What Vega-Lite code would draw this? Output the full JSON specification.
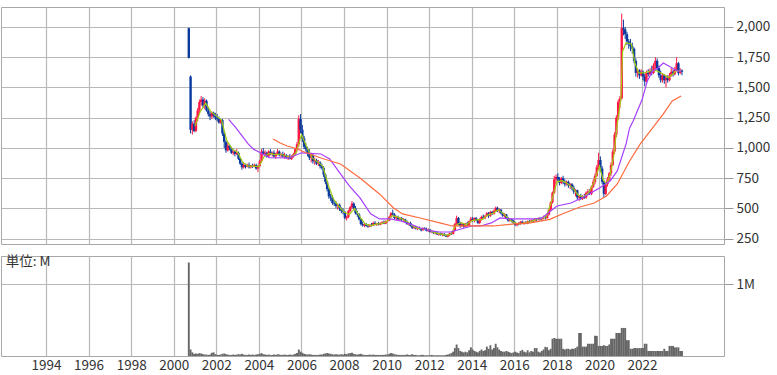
{
"$schema": "https://vega.github.io/schema/vega-lite/v6.json",
"background": "white",
"padding": {"left": 0, "top": 6, "right": 0, "bottom": 0},
"spacing": 8,
"config": {
  "font": "Noto Sans CJK JP",
  "view": {"stroke": "#a8a8a8", "strokeWidth": 1},
  "axis": {"gridColor": "#b8b8b8", "gridWidth": 1.2, "labelFontSize": 13.5, "labelColor": "#333333", "domain": false, "tickColor": "#9a9a9a", "labelOverlap": false}
},
"datasets": {
"p": [
{"d":"2000-09","o":1990,"h":1995,"l":1740,"c":1745,"v":1300000},
{"d":"2000-10","o":1590,"h":1600,"l":1120,"c":1150,"v":90000},
{"d":"2000-11","o":1150,"h":1220,"l":1110,"c":1200,"v":50000},
{"d":"2000-12","o":1200,"h":1230,"l":1130,"c":1140,"v":30000},
{"d":"2001-01","o":1140,"h":1260,"l":1130,"c":1250,"v":35000},
{"d":"2001-02","o":1250,"h":1330,"l":1220,"c":1310,"v":30000},
{"d":"2001-03","o":1310,"h":1400,"l":1290,"c":1380,"v":40000},
{"d":"2001-04","o":1380,"h":1430,"l":1350,"c":1400,"v":35000},
{"d":"2001-05","o":1400,"h":1420,"l":1330,"c":1350,"v":25000},
{"d":"2001-06","o":1350,"h":1410,"l":1320,"c":1390,"v":20000},
{"d":"2001-07","o":1390,"h":1400,"l":1300,"c":1310,"v":20000},
{"d":"2001-08","o":1310,"h":1340,"l":1260,"c":1280,"v":15000},
{"d":"2001-09","o":1280,"h":1300,"l":1230,"c":1260,"v":20000},
{"d":"2001-10","o":1260,"h":1300,"l":1240,"c":1290,"v":45000},
{"d":"2001-11","o":1290,"h":1300,"l":1250,"c":1270,"v":50000},
{"d":"2001-12","o":1270,"h":1290,"l":1230,"c":1250,"v":25000},
{"d":"2002-01","o":1250,"h":1280,"l":1220,"c":1240,"v":15000},
{"d":"2002-02","o":1240,"h":1260,"l":1200,"c":1210,"v":15000},
{"d":"2002-03","o":1210,"h":1240,"l":1200,"c":1230,"v":20000},
{"d":"2002-04","o":1230,"h":1240,"l":1100,"c":1120,"v":30000},
{"d":"2002-05","o":1120,"h":1130,"l":1000,"c":1050,"v":35000},
{"d":"2002-06","o":1050,"h":1060,"l":960,"c":980,"v":25000},
{"d":"2002-07","o":980,"h":1040,"l":970,"c":1020,"v":20000},
{"d":"2002-08","o":1020,"h":1030,"l":980,"c":1000,"v":15000},
{"d":"2002-09","o":1000,"h":1010,"l":950,"c":960,"v":15000},
{"d":"2002-10","o":960,"h":990,"l":940,"c":970,"v":20000},
{"d":"2002-11","o":970,"h":980,"l":930,"c":950,"v":15000},
{"d":"2002-12","o":950,"h":990,"l":940,"c":960,"v":20000},
{"d":"2003-01","o":960,"h":970,"l":900,"c":910,"v":25000},
{"d":"2003-02","o":910,"h":920,"l":860,"c":870,"v":20000},
{"d":"2003-03","o":870,"h":880,"l":820,"c":840,"v":30000},
{"d":"2003-04","o":840,"h":880,"l":830,"c":860,"v":20000},
{"d":"2003-05","o":860,"h":870,"l":830,"c":845,"v":15000},
{"d":"2003-06","o":845,"h":870,"l":840,"c":860,"v":15000},
{"d":"2003-07","o":860,"h":880,"l":830,"c":840,"v":20000},
{"d":"2003-08","o":840,"h":860,"l":830,"c":855,"v":15000},
{"d":"2003-09","o":855,"h":870,"l":835,"c":850,"v":20000},
{"d":"2003-10","o":850,"h":870,"l":840,"c":860,"v":15000},
{"d":"2003-11","o":860,"h":870,"l":820,"c":830,"v":20000},
{"d":"2003-12","o":830,"h":860,"l":800,"c":850,"v":25000},
{"d":"2004-01","o":850,"h":900,"l":840,"c":890,"v":30000},
{"d":"2004-02","o":890,"h":990,"l":880,"c":970,"v":40000},
{"d":"2004-03","o":970,"h":1000,"l":940,"c":950,"v":25000},
{"d":"2004-04","o":950,"h":980,"l":930,"c":960,"v":20000},
{"d":"2004-05","o":960,"h":970,"l":920,"c":930,"v":15000},
{"d":"2004-06","o":930,"h":980,"l":920,"c":970,"v":20000},
{"d":"2004-07","o":970,"h":990,"l":940,"c":950,"v":15000},
{"d":"2004-08","o":950,"h":970,"l":930,"c":960,"v":15000},
{"d":"2004-09","o":960,"h":980,"l":920,"c":930,"v":20000},
{"d":"2004-10","o":930,"h":960,"l":910,"c":950,"v":15000},
{"d":"2004-11","o":950,"h":990,"l":940,"c":970,"v":25000},
{"d":"2004-12","o":970,"h":980,"l":930,"c":940,"v":20000},
{"d":"2005-01","o":940,"h":960,"l":920,"c":950,"v":15000},
{"d":"2005-02","o":950,"h":970,"l":920,"c":930,"v":15000},
{"d":"2005-03","o":930,"h":960,"l":910,"c":940,"v":20000},
{"d":"2005-04","o":940,"h":950,"l":910,"c":920,"v":15000},
{"d":"2005-05","o":920,"h":940,"l":900,"c":930,"v":15000},
{"d":"2005-06","o":930,"h":950,"l":905,"c":910,"v":20000},
{"d":"2005-07","o":910,"h":940,"l":900,"c":930,"v":15000},
{"d":"2005-08","o":930,"h":960,"l":920,"c":950,"v":20000},
{"d":"2005-09","o":950,"h":1000,"l":940,"c":990,"v":30000},
{"d":"2005-10","o":990,"h":1050,"l":970,"c":1030,"v":40000},
{"d":"2005-11","o":1030,"h":1270,"l":1010,"c":1240,"v":90000},
{"d":"2005-12","o":1240,"h":1280,"l":1120,"c":1150,"v":60000},
{"d":"2006-01","o":1150,"h":1190,"l":1050,"c":1080,"v":45000},
{"d":"2006-02","o":1080,"h":1100,"l":990,"c":1010,"v":30000},
{"d":"2006-03","o":1010,"h":1040,"l":970,"c":990,"v":25000},
{"d":"2006-04","o":990,"h":1010,"l":930,"c":950,"v":20000},
{"d":"2006-05","o":950,"h":990,"l":900,"c":920,"v":25000},
{"d":"2006-06","o":920,"h":960,"l":880,"c":940,"v":20000},
{"d":"2006-07","o":940,"h":950,"l":870,"c":890,"v":15000},
{"d":"2006-08","o":890,"h":920,"l":860,"c":900,"v":15000},
{"d":"2006-09","o":900,"h":910,"l":860,"c":870,"v":15000},
{"d":"2006-10","o":870,"h":900,"l":850,"c":880,"v":15000},
{"d":"2006-11","o":880,"h":890,"l":830,"c":850,"v":20000},
{"d":"2006-12","o":850,"h":870,"l":820,"c":835,"v":20000},
{"d":"2007-01","o":835,"h":850,"l":760,"c":780,"v":30000},
{"d":"2007-02","o":780,"h":790,"l":700,"c":720,"v":35000},
{"d":"2007-03","o":720,"h":730,"l":640,"c":660,"v":40000},
{"d":"2007-04","o":660,"h":670,"l":580,"c":600,"v":35000},
{"d":"2007-05","o":600,"h":620,"l":560,"c":590,"v":30000},
{"d":"2007-06","o":590,"h":610,"l":530,"c":545,"v":25000},
{"d":"2007-07","o":545,"h":570,"l":520,"c":540,"v":20000},
{"d":"2007-08","o":540,"h":560,"l":500,"c":520,"v":25000},
{"d":"2007-09","o":520,"h":540,"l":490,"c":530,"v":20000},
{"d":"2007-10","o":530,"h":540,"l":480,"c":500,"v":20000},
{"d":"2007-11","o":500,"h":510,"l":460,"c":480,"v":25000},
{"d":"2007-12","o":480,"h":500,"l":450,"c":470,"v":20000},
{"d":"2008-01","o":470,"h":480,"l":410,"c":420,"v":30000},
{"d":"2008-02","o":420,"h":440,"l":400,"c":430,"v":25000},
{"d":"2008-03","o":430,"h":490,"l":420,"c":480,"v":35000},
{"d":"2008-04","o":480,"h":520,"l":470,"c":510,"v":40000},
{"d":"2008-05","o":510,"h":560,"l":500,"c":540,"v":45000},
{"d":"2008-06","o":540,"h":550,"l":490,"c":500,"v":30000},
{"d":"2008-07","o":500,"h":520,"l":450,"c":460,"v":25000},
{"d":"2008-08","o":460,"h":480,"l":430,"c":450,"v":20000},
{"d":"2008-09","o":450,"h":460,"l":400,"c":410,"v":25000},
{"d":"2008-10","o":410,"h":420,"l":360,"c":370,"v":30000},
{"d":"2008-11","o":370,"h":390,"l":350,"c":360,"v":20000},
{"d":"2008-12","o":360,"h":380,"l":345,"c":370,"v":15000},
{"d":"2009-01","o":370,"h":380,"l":350,"c":355,"v":15000},
{"d":"2009-02","o":355,"h":370,"l":340,"c":350,"v":15000},
{"d":"2009-03","o":350,"h":370,"l":345,"c":365,"v":20000},
{"d":"2009-04","o":365,"h":380,"l":350,"c":360,"v":15000},
{"d":"2009-05","o":360,"h":390,"l":355,"c":380,"v":20000},
{"d":"2009-06","o":380,"h":395,"l":360,"c":370,"v":15000},
{"d":"2009-07","o":370,"h":380,"l":355,"c":375,"v":15000},
{"d":"2009-08","o":375,"h":390,"l":360,"c":365,"v":15000},
{"d":"2009-09","o":365,"h":385,"l":360,"c":380,"v":15000},
{"d":"2009-10","o":380,"h":395,"l":370,"c":385,"v":15000},
{"d":"2009-11","o":385,"h":400,"l":370,"c":375,"v":15000},
{"d":"2009-12","o":375,"h":400,"l":370,"c":395,"v":20000},
{"d":"2010-01","o":395,"h":410,"l":385,"c":400,"v":20000},
{"d":"2010-02","o":400,"h":440,"l":395,"c":430,"v":30000},
{"d":"2010-03","o":430,"h":470,"l":420,"c":460,"v":40000},
{"d":"2010-04","o":460,"h":490,"l":440,"c":450,"v":35000},
{"d":"2010-05","o":450,"h":460,"l":410,"c":420,"v":25000},
{"d":"2010-06","o":420,"h":440,"l":400,"c":430,"v":20000},
{"d":"2010-07","o":430,"h":440,"l":400,"c":410,"v":15000},
{"d":"2010-08","o":410,"h":430,"l":395,"c":420,"v":15000},
{"d":"2010-09","o":420,"h":430,"l":395,"c":405,"v":15000},
{"d":"2010-10","o":405,"h":420,"l":390,"c":410,"v":15000},
{"d":"2010-11","o":410,"h":415,"l":380,"c":390,"v":15000},
{"d":"2010-12","o":390,"h":400,"l":365,"c":370,"v":20000},
{"d":"2011-01","o":370,"h":385,"l":360,"c":380,"v":15000},
{"d":"2011-02","o":380,"h":390,"l":350,"c":355,"v":15000},
{"d":"2011-03","o":355,"h":365,"l":330,"c":340,"v":25000},
{"d":"2011-04","o":340,"h":355,"l":330,"c":350,"v":15000},
{"d":"2011-05","o":350,"h":355,"l":325,"c":335,"v":15000},
{"d":"2011-06","o":335,"h":345,"l":320,"c":340,"v":10000},
{"d":"2011-07","o":340,"h":350,"l":325,"c":330,"v":10000},
{"d":"2011-08","o":330,"h":340,"l":310,"c":320,"v":15000},
{"d":"2011-09","o":320,"h":345,"l":315,"c":335,"v":15000},
{"d":"2011-10","o":335,"h":345,"l":320,"c":330,"v":10000},
{"d":"2011-11","o":330,"h":340,"l":310,"c":315,"v":10000},
{"d":"2011-12","o":315,"h":335,"l":305,"c":325,"v":10000},
{"d":"2012-01","o":325,"h":330,"l":300,"c":305,"v":10000},
{"d":"2012-02","o":305,"h":320,"l":295,"c":310,"v":15000},
{"d":"2012-03","o":310,"h":315,"l":290,"c":295,"v":10000},
{"d":"2012-04","o":295,"h":310,"l":285,"c":300,"v":10000},
{"d":"2012-05","o":300,"h":305,"l":280,"c":285,"v":10000},
{"d":"2012-06","o":285,"h":300,"l":275,"c":295,"v":10000},
{"d":"2012-07","o":295,"h":300,"l":275,"c":280,"v":10000},
{"d":"2012-08","o":280,"h":295,"l":270,"c":290,"v":10000},
{"d":"2012-09","o":290,"h":295,"l":270,"c":275,"v":10000},
{"d":"2012-10","o":275,"h":285,"l":262,"c":268,"v":15000},
{"d":"2012-11","o":268,"h":285,"l":260,"c":280,"v":20000},
{"d":"2012-12","o":280,"h":300,"l":270,"c":295,"v":30000},
{"d":"2013-01","o":295,"h":310,"l":280,"c":290,"v":40000},
{"d":"2013-02","o":290,"h":320,"l":285,"c":315,"v":60000},
{"d":"2013-03","o":315,"h":380,"l":310,"c":370,"v":110000},
{"d":"2013-04","o":370,"h":440,"l":360,"c":420,"v":160000},
{"d":"2013-05","o":420,"h":430,"l":360,"c":375,"v":110000},
{"d":"2013-06","o":375,"h":390,"l":340,"c":355,"v":70000},
{"d":"2013-07","o":355,"h":380,"l":345,"c":370,"v":60000},
{"d":"2013-08","o":370,"h":375,"l":340,"c":350,"v":50000},
{"d":"2013-09","o":350,"h":380,"l":345,"c":375,"v":60000},
{"d":"2013-10","o":375,"h":390,"l":350,"c":360,"v":50000},
{"d":"2013-11","o":360,"h":400,"l":355,"c":395,"v":80000},
{"d":"2013-12","o":395,"h":430,"l":385,"c":415,"v":120000},
{"d":"2014-01","o":415,"h":430,"l":390,"c":400,"v":90000},
{"d":"2014-02","o":400,"h":425,"l":385,"c":420,"v":70000},
{"d":"2014-03","o":420,"h":430,"l":395,"c":405,"v":60000},
{"d":"2014-04","o":405,"h":410,"l":370,"c":380,"v":50000},
{"d":"2014-05","o":380,"h":420,"l":370,"c":410,"v":70000},
{"d":"2014-06","o":410,"h":440,"l":400,"c":430,"v":90000},
{"d":"2014-07","o":430,"h":450,"l":410,"c":420,"v":70000},
{"d":"2014-08","o":420,"h":445,"l":410,"c":440,"v":80000},
{"d":"2014-09","o":440,"h":470,"l":430,"c":460,"v":130000},
{"d":"2014-10","o":460,"h":470,"l":420,"c":440,"v":100000},
{"d":"2014-11","o":440,"h":480,"l":430,"c":470,"v":150000},
{"d":"2014-12","o":470,"h":480,"l":445,"c":455,"v":90000},
{"d":"2015-01","o":455,"h":490,"l":450,"c":480,"v":110000},
{"d":"2015-02","o":480,"h":515,"l":470,"c":505,"v":170000},
{"d":"2015-03","o":505,"h":515,"l":470,"c":480,"v":120000},
{"d":"2015-04","o":480,"h":500,"l":460,"c":490,"v":90000},
{"d":"2015-05","o":490,"h":495,"l":450,"c":460,"v":70000},
{"d":"2015-06","o":460,"h":470,"l":430,"c":440,"v":60000},
{"d":"2015-07","o":440,"h":460,"l":425,"c":450,"v":60000},
{"d":"2015-08","o":450,"h":455,"l":410,"c":420,"v":70000},
{"d":"2015-09","o":420,"h":430,"l":390,"c":400,"v":60000},
{"d":"2015-10","o":400,"h":420,"l":390,"c":410,"v":50000},
{"d":"2015-11","o":410,"h":415,"l":385,"c":395,"v":40000},
{"d":"2015-12","o":395,"h":405,"l":370,"c":380,"v":50000},
{"d":"2016-01","o":380,"h":390,"l":355,"c":365,"v":60000},
{"d":"2016-02","o":365,"h":380,"l":350,"c":375,"v":50000},
{"d":"2016-03","o":375,"h":385,"l":360,"c":370,"v":40000},
{"d":"2016-04","o":370,"h":395,"l":365,"c":390,"v":70000},
{"d":"2016-05","o":390,"h":400,"l":370,"c":380,"v":85000},
{"d":"2016-06","o":380,"h":390,"l":365,"c":385,"v":60000},
{"d":"2016-07","o":385,"h":395,"l":370,"c":375,"v":50000},
{"d":"2016-08","o":375,"h":400,"l":370,"c":395,"v":80000},
{"d":"2016-09","o":395,"h":405,"l":380,"c":390,"v":50000},
{"d":"2016-10","o":390,"h":410,"l":385,"c":400,"v":70000},
{"d":"2016-11","o":400,"h":410,"l":385,"c":395,"v":60000},
{"d":"2016-12","o":395,"h":420,"l":390,"c":410,"v":110000},
{"d":"2017-01","o":410,"h":420,"l":395,"c":405,"v":110000},
{"d":"2017-02","o":405,"h":425,"l":400,"c":420,"v":60000},
{"d":"2017-03","o":420,"h":430,"l":400,"c":410,"v":50000},
{"d":"2017-04","o":410,"h":425,"l":400,"c":420,"v":70000},
{"d":"2017-05","o":420,"h":440,"l":410,"c":430,"v":90000},
{"d":"2017-06","o":430,"h":440,"l":410,"c":420,"v":127000},
{"d":"2017-07","o":420,"h":460,"l":415,"c":450,"v":120000},
{"d":"2017-08","o":450,"h":500,"l":440,"c":490,"v":80000},
{"d":"2017-09","o":490,"h":560,"l":480,"c":550,"v":100000},
{"d":"2017-10","o":550,"h":640,"l":540,"c":630,"v":240000},
{"d":"2017-11","o":630,"h":770,"l":620,"c":740,"v":250000},
{"d":"2017-12","o":740,"h":780,"l":700,"c":760,"v":240000},
{"d":"2018-01","o":760,"h":790,"l":720,"c":740,"v":240000},
{"d":"2018-02","o":740,"h":760,"l":690,"c":710,"v":240000},
{"d":"2018-03","o":710,"h":760,"l":700,"c":750,"v":240000},
{"d":"2018-04","o":750,"h":770,"l":700,"c":720,"v":100000},
{"d":"2018-05","o":720,"h":740,"l":680,"c":700,"v":90000},
{"d":"2018-06","o":700,"h":730,"l":690,"c":720,"v":100000},
{"d":"2018-07","o":720,"h":730,"l":670,"c":690,"v":100000},
{"d":"2018-08","o":690,"h":710,"l":660,"c":700,"v":90000},
{"d":"2018-09","o":700,"h":710,"l":650,"c":670,"v":100000},
{"d":"2018-10","o":670,"h":690,"l":620,"c":640,"v":100000},
{"d":"2018-11","o":640,"h":660,"l":600,"c":650,"v":110000},
{"d":"2018-12","o":650,"h":655,"l":570,"c":590,"v":130000},
{"d":"2019-01","o":590,"h":610,"l":560,"c":600,"v":320000},
{"d":"2019-02","o":600,"h":620,"l":570,"c":580,"v":320000},
{"d":"2019-03","o":580,"h":610,"l":570,"c":600,"v":130000},
{"d":"2019-04","o":600,"h":620,"l":580,"c":590,"v":130000},
{"d":"2019-05","o":590,"h":640,"l":580,"c":630,"v":130000},
{"d":"2019-06","o":630,"h":660,"l":610,"c":640,"v":170000},
{"d":"2019-07","o":640,"h":660,"l":610,"c":620,"v":170000},
{"d":"2019-08","o":620,"h":690,"l":610,"c":680,"v":170000},
{"d":"2019-09","o":680,"h":740,"l":670,"c":720,"v":170000},
{"d":"2019-10","o":720,"h":790,"l":700,"c":770,"v":280000},
{"d":"2019-11","o":770,"h":860,"l":760,"c":840,"v":280000},
{"d":"2019-12","o":840,"h":960,"l":820,"c":900,"v":140000},
{"d":"2020-01","o":900,"h":930,"l":800,"c":830,"v":140000},
{"d":"2020-02","o":830,"h":850,"l":700,"c":720,"v":140000},
{"d":"2020-03","o":720,"h":730,"l":590,"c":620,"v":150000},
{"d":"2020-04","o":620,"h":720,"l":610,"c":700,"v":140000},
{"d":"2020-05","o":700,"h":760,"l":680,"c":740,"v":140000},
{"d":"2020-06","o":740,"h":800,"l":720,"c":790,"v":160000},
{"d":"2020-07","o":790,"h":880,"l":770,"c":860,"v":240000},
{"d":"2020-08","o":860,"h":990,"l":850,"c":970,"v":240000},
{"d":"2020-09","o":970,"h":1130,"l":950,"c":1110,"v":240000},
{"d":"2020-10","o":1110,"h":1270,"l":1090,"c":1250,"v":320000},
{"d":"2020-11","o":1250,"h":1400,"l":1230,"c":1380,"v":320000},
{"d":"2020-12","o":1380,"h":1430,"l":1330,"c":1410,"v":320000},
{"d":"2021-01","o":1410,"h":2110,"l":1400,"c":1990,"v":390000},
{"d":"2021-02","o":1990,"h":2060,"l":1930,"c":1980,"v":390000},
{"d":"2021-03","o":1980,"h":2000,"l":1900,"c":1940,"v":390000},
{"d":"2021-04","o":1940,"h":1960,"l":1850,"c":1880,"v":220000},
{"d":"2021-05","o":1880,"h":1900,"l":1820,"c":1860,"v":220000},
{"d":"2021-06","o":1860,"h":1900,"l":1800,"c":1840,"v":100000},
{"d":"2021-07","o":1840,"h":1870,"l":1780,"c":1820,"v":100000},
{"d":"2021-08","o":1820,"h":1830,"l":1700,"c":1720,"v":110000},
{"d":"2021-09","o":1720,"h":1740,"l":1590,"c":1620,"v":110000},
{"d":"2021-10","o":1620,"h":1660,"l":1580,"c":1640,"v":110000},
{"d":"2021-11","o":1640,"h":1650,"l":1570,"c":1600,"v":110000},
{"d":"2021-12","o":1600,"h":1650,"l":1590,"c":1630,"v":110000},
{"d":"2022-01","o":1630,"h":1640,"l":1560,"c":1590,"v":110000},
{"d":"2022-02","o":1590,"h":1610,"l":1510,"c":1550,"v":170000},
{"d":"2022-03","o":1550,"h":1640,"l":1540,"c":1620,"v":170000},
{"d":"2022-04","o":1620,"h":1650,"l":1590,"c":1610,"v":70000},
{"d":"2022-05","o":1610,"h":1660,"l":1600,"c":1640,"v":70000},
{"d":"2022-06","o":1640,"h":1680,"l":1600,"c":1620,"v":70000},
{"d":"2022-07","o":1620,"h":1700,"l":1610,"c":1680,"v":70000},
{"d":"2022-08","o":1680,"h":1750,"l":1650,"c":1720,"v":70000},
{"d":"2022-09","o":1720,"h":1740,"l":1640,"c":1660,"v":70000},
{"d":"2022-10","o":1660,"h":1680,"l":1580,"c":1600,"v":70000},
{"d":"2022-11","o":1600,"h":1640,"l":1540,"c":1560,"v":70000},
{"d":"2022-12","o":1560,"h":1620,"l":1540,"c":1600,"v":70000},
{"d":"2023-01","o":1600,"h":1610,"l":1530,"c":1560,"v":100000},
{"d":"2023-02","o":1560,"h":1600,"l":1500,"c":1580,"v":70000},
{"d":"2023-03","o":1580,"h":1600,"l":1540,"c":1560,"v":70000},
{"d":"2023-04","o":1560,"h":1620,"l":1550,"c":1600,"v":140000},
{"d":"2023-05","o":1600,"h":1660,"l":1590,"c":1630,"v":140000},
{"d":"2023-06","o":1630,"h":1650,"l":1590,"c":1610,"v":140000},
{"d":"2023-07","o":1610,"h":1670,"l":1600,"c":1650,"v":120000},
{"d":"2023-08","o":1650,"h":1750,"l":1640,"c":1700,"v":120000},
{"d":"2023-09","o":1700,"h":1710,"l":1600,"c":1620,"v":120000},
{"d":"2023-10","o":1620,"h":1660,"l":1610,"c":1640,"v":70000},
{"d":"2023-11","o":1640,"h":1650,"l":1600,"c":1630,"v":70000}
],
"m": [
{"d":"2001-01","s":"a","y":1180},{"d":"2001-04","s":"a","y":1300},{"d":"2001-07","s":"a","y":1370},{"d":"2001-10","s":"a","y":1300},
{"d":"2002-01","s":"a","y":1265},{"d":"2002-04","s":"a","y":1230},{"d":"2002-07","s":"a","y":1060},{"d":"2002-10","s":"a","y":990},
{"d":"2003-01","s":"a","y":965},{"d":"2003-04","s":"a","y":880},{"d":"2003-07","s":"a","y":850},{"d":"2003-10","s":"a","y":850},
{"d":"2004-01","s":"a","y":845},{"d":"2004-04","s":"a","y":930},{"d":"2004-07","s":"a","y":955},{"d":"2004-10","s":"a","y":945},
{"d":"2005-01","s":"a","y":950},{"d":"2005-04","s":"a","y":935},{"d":"2005-07","s":"a","y":920},{"d":"2005-10","s":"a","y":960},
{"d":"2006-01","s":"a","y":1110},{"d":"2006-04","s":"a","y":1010},{"d":"2006-07","s":"a","y":920},{"d":"2006-10","s":"a","y":885},
{"d":"2007-01","s":"a","y":850},{"d":"2007-04","s":"a","y":700},{"d":"2007-07","s":"a","y":580},{"d":"2007-10","s":"a","y":520},
{"d":"2008-01","s":"a","y":470},{"d":"2008-04","s":"a","y":450},{"d":"2008-07","s":"a","y":500},{"d":"2008-10","s":"a","y":430},
{"d":"2009-01","s":"a","y":370},{"d":"2009-04","s":"a","y":358},{"d":"2009-07","s":"a","y":370},{"d":"2009-10","s":"a","y":375},
{"d":"2010-01","s":"a","y":390},{"d":"2010-04","s":"a","y":440},{"d":"2010-07","s":"a","y":430},{"d":"2010-10","s":"a","y":410},
{"d":"2011-01","s":"a","y":385},{"d":"2011-04","s":"a","y":350},{"d":"2011-07","s":"a","y":335},{"d":"2011-10","s":"a","y":330},
{"d":"2012-01","s":"a","y":320},{"d":"2012-04","s":"a","y":300},{"d":"2012-07","s":"a","y":290},{"d":"2012-10","s":"a","y":280},
{"d":"2013-01","s":"a","y":285},{"d":"2013-04","s":"a","y":360},{"d":"2013-07","s":"a","y":385},{"d":"2013-10","s":"a","y":365},
{"d":"2014-01","s":"a","y":400},{"d":"2014-04","s":"a","y":405},{"d":"2014-07","s":"a","y":410},{"d":"2014-10","s":"a","y":445},
{"d":"2015-01","s":"a","y":460},{"d":"2015-04","s":"a","y":490},{"d":"2015-07","s":"a","y":455},{"d":"2015-10","s":"a","y":410},
{"d":"2016-01","s":"a","y":380},{"d":"2016-04","s":"a","y":372},{"d":"2016-07","s":"a","y":380},{"d":"2016-10","s":"a","y":392},
{"d":"2017-01","s":"a","y":405},{"d":"2017-04","s":"a","y":415},{"d":"2017-07","s":"a","y":430},{"d":"2017-10","s":"a","y":560},
{"d":"2018-01","s":"a","y":720},{"d":"2018-04","s":"a","y":730},{"d":"2018-07","s":"a","y":705},{"d":"2018-10","s":"a","y":670},
{"d":"2019-01","s":"a","y":610},{"d":"2019-04","s":"a","y":595},{"d":"2019-07","s":"a","y":630},{"d":"2019-10","s":"a","y":720},
{"d":"2020-01","s":"a","y":850},{"d":"2020-03","s":"a","y":740},{"d":"2020-05","s":"a","y":700},{"d":"2020-07","s":"a","y":780},
{"d":"2020-09","s":"a","y":930},{"d":"2020-11","s":"a","y":1200},{"d":"2021-01","s":"a","y":1400},{"d":"2021-02","s":"a","y":1800},
{"d":"2021-04","s":"a","y":1870},{"d":"2021-07","s":"a","y":1860},{"d":"2021-09","s":"a","y":1700},{"d":"2021-11","s":"a","y":1620},
{"d":"2022-02","s":"a","y":1620},{"d":"2022-06","s":"a","y":1636},{"d":"2022-09","s":"a","y":1640},{"d":"2023-01","s":"a","y":1610},
{"d":"2023-04","s":"a","y":1580},{"d":"2023-08","s":"a","y":1636},{"d":"2023-11","s":"a","y":1636},
{"d":"2002-08","s":"b","y":1237},{"d":"2002-12","s":"b","y":1168},{"d":"2003-07","s":"b","y":1033},{"d":"2003-10","s":"b","y":990},
{"d":"2004-07","s":"b","y":920},{"d":"2005-06","s":"b","y":917},{"d":"2006-01","s":"b","y":960},{"d":"2006-12","s":"b","y":950},
{"d":"2007-05","s":"b","y":909},{"d":"2007-11","s":"b","y":785},{"d":"2008-04","s":"b","y":686},{"d":"2008-10","s":"b","y":587},
{"d":"2009-04","s":"b","y":455},{"d":"2009-09","s":"b","y":413},{"d":"2010-03","s":"b","y":413},{"d":"2010-09","s":"b","y":396},
{"d":"2011-02","s":"b","y":372},{"d":"2011-08","s":"b","y":338},{"d":"2012-02","s":"b","y":314},{"d":"2012-07","s":"b","y":305},
{"d":"2013-01","s":"b","y":305},{"d":"2013-07","s":"b","y":330},{"d":"2014-01","s":"b","y":355},{"d":"2014-06","s":"b","y":355},
{"d":"2014-12","s":"b","y":380},{"d":"2015-05","s":"b","y":421},{"d":"2015-11","s":"b","y":413},{"d":"2016-04","s":"b","y":413},
{"d":"2016-10","s":"b","y":413},{"d":"2017-04","s":"b","y":415},{"d":"2018-01","s":"b","y":520},{"d":"2018-09","s":"b","y":545},
{"d":"2019-05","s":"b","y":600},{"d":"2020-01","s":"b","y":669},{"d":"2020-07","s":"b","y":727},{"d":"2020-11","s":"b","y":810},
{"d":"2021-04","s":"b","y":1033},{"d":"2021-06","s":"b","y":1165},{"d":"2021-08","s":"b","y":1223},{"d":"2022-01","s":"b","y":1400},
{"d":"2022-04","s":"b","y":1554},{"d":"2022-07","s":"b","y":1636},{"d":"2022-10","s":"b","y":1661},{"d":"2023-01","s":"b","y":1702},
{"d":"2023-04","s":"b","y":1678},{"d":"2023-07","s":"b","y":1653},{"d":"2023-09","s":"b","y":1636},{"d":"2023-11","s":"b","y":1635},
{"d":"2004-09","s":"c","y":1074},{"d":"2005-01","s":"c","y":1041},{"d":"2005-05","s":"c","y":1016},{"d":"2005-11","s":"c","y":991},
{"d":"2006-01","s":"c","y":975},{"d":"2006-12","s":"c","y":917},{"d":"2007-11","s":"c","y":867},{"d":"2008-10","s":"c","y":752},
{"d":"2009-09","s":"c","y":620},{"d":"2010-05","s":"c","y":504},{"d":"2010-10","s":"c","y":455},{"d":"2011-08","s":"c","y":421},
{"d":"2012-07","s":"c","y":380},{"d":"2013-02","s":"c","y":355},{"d":"2014-01","s":"c","y":355},{"d":"2015-01","s":"c","y":355},
{"d":"2016-01","s":"c","y":372},{"d":"2016-10","s":"c","y":380},{"d":"2017-09","s":"c","y":410},{"d":"2018-05","s":"c","y":460},
{"d":"2019-02","s":"c","y":512},{"d":"2019-10","s":"c","y":545},{"d":"2020-05","s":"c","y":603},{"d":"2020-11","s":"c","y":702},
{"d":"2021-06","s":"c","y":892},{"d":"2021-12","s":"c","y":1033},{"d":"2022-07","s":"c","y":1165},{"d":"2023-01","s":"c","y":1281},
{"d":"2023-06","s":"c","y":1388},{"d":"2023-11","s":"c","y":1430}
]
},
"vconcat": [
{
  "width": 723, "height": 237,
  "layer": [
    {
      "data": {"name": "p"},
      "mark": {"type": "rule", "strokeWidth": 1},
      "encoding": {
        "x": {"field": "d", "type": "temporal", "timeUnit": "yearmonth", "bandPosition": 0.5,
              "scale": {"domain": ["1991-11-21", "2025-11-06"]},
              "axis": {"values": [{"year":1994},{"year":1996},{"year":1998},{"year":2000},{"year":2002},{"year":2004},{"year":2006},{"year":2008},{"year":2010},{"year":2012},{"year":2014},{"year":2016},{"year":2018},{"year":2020},{"year":2022}],
                       "grid": true, "labels": false, "ticks": false, "title": null, "minExtent": 0, "maxExtent": 0, "offset": 0}},
        "y": {"field": "l", "type": "quantitative", "scale": {"domain": [206, 2165], "nice": false, "zero": false},
              "axis": {"orient": "right", "values": [250,500,750,1000,1250,1500,1750,2000], "labelExpr": "format(datum.value, ',')", "grid": true, "tickSize": 9, "labelPadding": 3, "title": null, "labelOverlap": false, "labelBound": false, "labelSeparation": 0}},
        "y2": {"field": "h"},
        "color": {"condition": {"test": "datum.c >= datum.o", "value": "#ff1744"}, "value": "#0a3a9e"}
      }
    },
    {
      "data": {"name": "p"},
      "mark": {"type": "bar", "width": 2.4},
      "encoding": {
        "x": {"field": "d", "type": "temporal", "timeUnit": "yearmonth", "bandPosition": 0.5,
              "axis": {"values": [{"year":1994},{"year":1996},{"year":1998},{"year":2000},{"year":2002},{"year":2004},{"year":2006},{"year":2008},{"year":2010},{"year":2012},{"year":2014},{"year":2016},{"year":2018},{"year":2020},{"year":2022}],
                       "grid": true, "labels": false, "ticks": false, "title": null, "minExtent": 0, "maxExtent": 0, "offset": 0}},
        "y": {"field": "o", "type": "quantitative",
              "axis": {"orient": "right", "values": [250,500,750,1000,1250,1500,1750,2000], "labelExpr": "format(datum.value, ',')", "grid": true, "tickSize": 9, "labelPadding": 3, "title": null, "labelOverlap": false, "labelBound": false, "labelSeparation": 0}},
        "y2": {"field": "c"},
        "color": {"condition": {"test": "datum.c >= datum.o", "value": "#ff1744"}, "value": "#0a3a9e"}
      }
    },
    {
      "data": {"name": "m"},
      "mark": {"type": "line", "strokeWidth": 1.2},
      "encoding": {
        "x": {"field": "d", "type": "temporal",
              "axis": {"values": [{"year":1994},{"year":1996},{"year":1998},{"year":2000},{"year":2002},{"year":2004},{"year":2006},{"year":2008},{"year":2010},{"year":2012},{"year":2014},{"year":2016},{"year":2018},{"year":2020},{"year":2022}],
                       "grid": true, "labels": false, "ticks": false, "title": null, "minExtent": 0, "maxExtent": 0, "offset": 0}},
        "y": {"field": "y", "type": "quantitative",
              "axis": {"orient": "right", "values": [250,500,750,1000,1250,1500,1750,2000], "labelExpr": "format(datum.value, ',')", "grid": true, "tickSize": 9, "labelPadding": 3, "title": null, "labelOverlap": false, "labelBound": false, "labelSeparation": 0}},
        "color": {"field": "s", "type": "nominal", "scale": {"domain": ["a","b","c"], "range": ["#a2cc10", "#a63dff", "#ff6a3d"]}, "legend": null}
      }
    }
  ]
},
{
  "width": 723, "height": 100,
  "layer": [
    {
      "data": {"name": "p"},
      "mark": {"type": "bar", "color": "#666666", "width": 1.9},
      "encoding": {
        "x": {"field": "d", "type": "temporal", "timeUnit": "yearmonth", "bandPosition": 0.5,
              "scale": {"domain": ["1991-11-21", "2025-11-06"]},
              "axis": {"values": [{"year":1994},{"year":1996},{"year":1998},{"year":2000},{"year":2002},{"year":2004},{"year":2006},{"year":2008},{"year":2010},{"year":2012},{"year":2014},{"year":2016},{"year":2018},{"year":2020},{"year":2022}],
                       "format": "%Y", "grid": true, "ticks": false, "labelPadding": 2, "labelFlush": false, "title": null}},
        "y": {"field": "v", "type": "quantitative", "scale": {"domain": [0, 1390000], "nice": false},
              "axis": {"orient": "right", "values": [1000000], "labelExpr": "'1M'", "grid": true, "tickSize": 9, "labelPadding": 3, "title": null}}
      }
    },
    {
      "data": {"values": [{"t": "単位: M"}]},
      "mark": {"type": "text", "align": "left", "baseline": "middle", "fontSize": 13.5, "color": "#333333"},
      "encoding": {
        "x": {"datum": {"year": 1992, "month": 2, "date": 10}, "type": "temporal"},
        "y": {"datum": 1300000, "type": "quantitative"},
        "text": {"field": "t"}
      }
    }
  ]
}
]
}
